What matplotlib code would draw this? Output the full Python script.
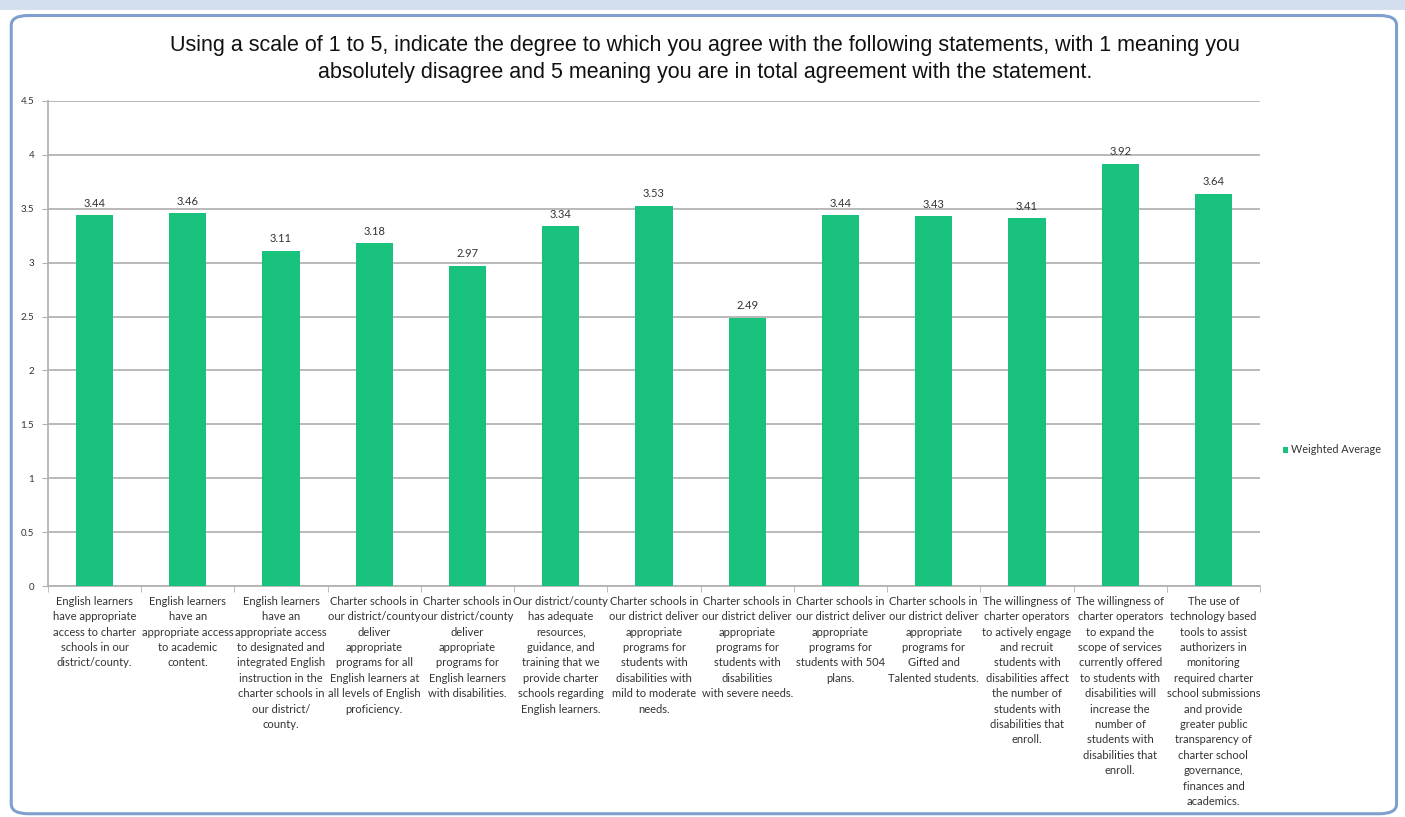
import matplotlib.pyplot as plt
import numpy as np
from matplotlib.patches import FancyBboxPatch

statements = [
    "English learners\nhave appropriate\naccess to charter\nschools in our\ndistrict/county.",
    "English learners\nhave an\nappropriate access\nto academic\ncontent.",
    "English learners\nhave an\nappropriate access\nto designated and\nintegrated English\ninstruction in the\ncharter schools in\nour district/\ncounty.",
    "Charter schools in\nour district/county\ndeliver\nappropriate\nprograms for all\nEnglish learners at\nall levels of English\nproficiency.",
    "Charter schools in\nour district/county\ndeliver\nappropriate\nprograms for\nEnglish learners\nwith disabilities.",
    "Our district/county\nhas adequate\nresources,\nguidance, and\ntraining that we\nprovide charter\nschools regarding\nEnglish learners.",
    "Charter schools in\nour district deliver\nappropriate\nprograms for\nstudents with\ndisabilities with\nmild to moderate\nneeds.",
    "Charter schools in\nour district deliver\nappropriate\nprograms for\nstudents with\ndisabilities\nwith severe needs.",
    "Charter schools in\nour district deliver\nappropriate\nprograms for\nstudents with 504\nplans.",
    "Charter schools in\nour district deliver\nappropriate\nprograms for\nGifted and\nTalented students.",
    "The willingness of\ncharter operators\nto actively engage\nand recruit\nstudents with\ndisabilities affect\nthe number of\nstudents with\ndisabilities that\nenroll.",
    "The willingness of\ncharter operators\nto expand the\nscope of services\ncurrently offered\nto students with\ndisabilities will\nincrease the\nnumber of\nstudents with\ndisabilities that\nenroll.",
    "The use of\ntechnology based\ntools to assist\nauthorizers in\nmonitoring\nrequired charter\nschool submissions\nand provide\ngreater public\ntransparency of\ncharter school\ngovernance,\nfinances and\nacademics.",
]
weighted_avg = [3.44, 3.46, 3.11, 3.18, 2.97, 3.34, 3.53, 2.49, 3.44, 3.43, 3.41, 3.92, 3.64]
yticks = [0, 0.5, 1, 1.5, 2, 2.5, 3, 3.5, 4, 4.5]

title = ("Using a scale of 1 to 5, indicate the degree to which you agree with the following statements, with 1 meaning you\n"
         "absolutely disagree and 5 meaning you are in total agreement with the statement.")

green = '#19c27c'
grid_c = '#b3b3b3'
txt_c = '#333333'

fig = plt.figure(figsize=(14.05, 8.17), dpi=100)
fig.patch.set_facecolor('white')

# window frame behind the chart
frame = FancyBboxPatch((0.008, 0.004), 0.986, 0.977, boxstyle="round,pad=0,rounding_size=0.012",
                       transform=fig.transFigure, facecolor='white', edgecolor='#7f9fcf', lw=2.2,
                       zorder=-10)
fig.patches.append(frame)
fig.patches.append(plt.Rectangle((0, 0.988), 1, 0.012, transform=fig.transFigure,
                                 facecolor='#d3deee', edgecolor='none', zorder=-10))

ax = fig.add_axes([48 / 1405, 1 - 586 / 817, (1260 - 48) / 1405, (586 - 101) / 817])
ax.patch.set_alpha(0)
x = np.arange(len(weighted_avg))
bars = ax.bar(x, weighted_avg, width=0.4, color=green, zorder=3, label='Weighted Average')

for xi, v in zip(x, weighted_avg):
    ax.text(xi, v + 0.06, f'{v:.2f}', ha='center', va='bottom', fontsize=8, color=txt_c,
            family='Lato')

ax.set_xlim(-0.5, len(weighted_avg) - 0.5)
ax.set_ylim(0, 4.5)
ax.set_yticks(yticks)
ax.set_yticklabels([f'{t:g}' for t in yticks], fontsize=7, color=txt_c, family='Lato')
ax.yaxis.grid(True, color=grid_c, lw=1.3, zorder=0)
ax.tick_params(axis='y', length=4, color=grid_c, pad=6)

ax.set_xticks(x)
ax.set_xticklabels(statements, fontsize=8, color=txt_c, family='Lato', linespacing=1.49)
ax.tick_params(axis='x', length=0, pad=7)
ax.set_xticks(np.arange(len(weighted_avg) + 1) - 0.5, minor=True)
ax.tick_params(axis='x', which='minor', length=4, color=grid_c)

for s in ['top', 'right']:
    ax.spines[s].set_visible(False)
for s in ['left', 'bottom']:
    ax.spines[s].set_color(grid_c)
    ax.spines[s].set_linewidth(1.3)

fig.text(0.502, 1 - 59 / 817, title, ha='center', va='center', fontsize=15.5,
         family='Liberation Sans', color='#111111', linespacing=1.4)

leg = fig.legend(handles=[bars], loc='center left', bbox_to_anchor=(1273 / 1405, 1 - 450 / 817),
                 frameon=False, handlelength=0.5, handleheight=0.5, handletextpad=0.3,
                 prop={'family': 'Lato', 'size': 7.8})
for t in leg.get_texts():
    t.set_color(txt_c)

fig.savefig('out.png', dpi=100)
